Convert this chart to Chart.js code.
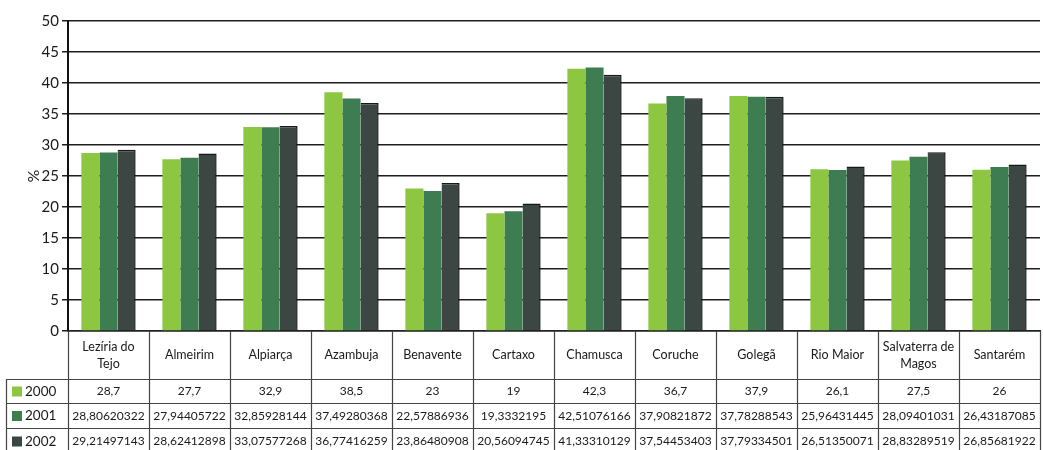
<!DOCTYPE html>
<html>
<head>
<meta charset="utf-8">
<script src="https://cdn.jsdelivr.net/npm/chart.js@4.4.1/dist/chart.umd.min.js"></script>
<style>
html,body{margin:0;padding:0;background:#fff;}
#wrap{width:1043px;height:450px;position:relative;}
</style>
</head>
<body>
<div id="wrap"><canvas id="c" width="1043" height="450"></canvas></div>
<script>
const categories = [["Lezíria do","Tejo"],"Almeirim","Alpiarça","Azambuja","Benavente","Cartaxo","Chamusca","Coruche","Golegã","Rio Maior",["Salvaterra de","Magos"],"Santarém"];
const seriesNames = ["2000","2001","2002"];
const values2000 = [28.7,27.7,32.9,38.5,23,19,42.3,36.7,37.9,26.1,27.5,26];
const values2001 = [28.80620322,27.94405722,32.85928144,37.49280368,22.57886936,19.3332195,42.51076166,37.90821872,37.78288543,25.96431445,28.09401031,26.43187085];
const values2002 = [29.21497143,28.62412898,33.07577268,36.77416259,23.86480908,20.56094745,41.33310129,37.54453403,37.79334501,26.51350071,28.83289519,26.85681922];
const yTicks = [0,5,10,15,20,25,30,35,40,45,50];

const colors = ['#8dc641','#3e7d52','#3c4744'];
const FONT = 'Lato, "Open Sans", sans-serif';
const seriesValues = [values2000, values2001, values2002];

const tablePlugin = {
  id: 'dataTable',
  afterDraw(chart) {
    const ctx = chart.ctx;
    const ca = chart.chartArea;
    const xs = chart.scales.x;
    const n = categories.length;
    const colW = (ca.right - ca.left) / n;
    const top = ca.bottom;
    const heights = [48, 24, 25, 26];
    const rowTops = [top];
    for (let i = 0; i < heights.length; i++) rowTops.push(rowTops[i] + heights[i]);
    const legendLeft = 6;
    ctx.save();
    ctx.strokeStyle = '#444';
    ctx.lineWidth = 1.2;
    ctx.beginPath();
    for (let r = 1; r < rowTops.length - 1; r++) {
      ctx.moveTo(legendLeft, rowTops[r] + 0.5);
      ctx.lineTo(ca.right, rowTops[r] + 0.5);
    }
    ctx.stroke();
    ctx.beginPath();
    ctx.moveTo(legendLeft + 0.5, rowTops[1]);
    ctx.lineTo(legendLeft + 0.5, 450);
    for (let i = 0; i <= n; i++) {
      const x = Math.round(ca.left + i * colW) + 0.5;
      ctx.moveTo(x, top);
      ctx.lineTo(x, 450);
    }
    ctx.stroke();
    ctx.fillStyle = '#1a1a1a';
    ctx.textAlign = 'center';
    ctx.textBaseline = 'middle';
    ctx.font = '12.5px ' + FONT;
    for (let i = 0; i < n; i++) {
      const cx = xs.getPixelForValue(i);
      const lab = categories[i];
      const cy = rowTops[0] + heights[0] / 2;
      if (Array.isArray(lab)) {
        ctx.fillText(lab[0], cx, cy - 8);
        ctx.fillText(lab[1], cx, cy + 9);
      } else {
        ctx.fillText(lab, cx, cy);
      }
    }
    for (let s = 0; s < seriesValues.length; s++) {
      const cy = rowTops[s + 1] + heights[s + 1] / 2 + 0.5;
      ctx.font = '12px ' + FONT;
      ctx.textAlign = 'center';
      for (let i = 0; i < n; i++) {
        const cx = xs.getPixelForValue(i);
        ctx.fillText(String(seriesValues[s][i]).replace('.', ','), cx, cy);
      }
      ctx.fillStyle = colors[s];
      ctx.fillRect(12, cy - 5, 10, 10);
      ctx.fillStyle = '#1a1a1a';
      ctx.textAlign = 'left';
      ctx.font = '13.5px ' + FONT;
      ctx.fillText(seriesNames[s], 25, cy);
    }
    ctx.restore();
  }
};

new Chart(document.getElementById('c'), {
  type: 'bar',
  data: {
    labels: categories.map(c => Array.isArray(c) ? c.join(' ') : c),
    datasets: [
      { label: seriesNames[0], data: values2000, backgroundColor: colors[0], borderWidth: 0 },
      { label: seriesNames[1], data: values2001, backgroundColor: colors[1], borderWidth: 0 },
      { label: seriesNames[2], data: values2002, backgroundColor: colors[2], borderColor: '#151a18', borderWidth: {top:1.5, right:1.5, left:0, bottom:0}, borderSkipped: 'bottom' }
    ]
  },
  options: {
    responsive: false,
    animation: false,
    layout: { padding: { left: 0, right: 3, top: 21, bottom: 119 } },
    plugins: { legend: { display: false }, tooltip: { enabled: false }, title: { display: false } },
    datasets: { bar: { categoryPercentage: 0.67, barPercentage: 1.0 } },
    scales: {
      x: {
        grid: { display: false },
        border: { display: true, color: '#222', width: 1.5 },
        ticks: { display: false },
        afterFit(s) { s.height = 0; }
      },
      y: {
        min: 0, max: 50,
        afterBuildTicks(s) { s.ticks = yTicks.map(v => ({ value: v })); },
        grid: { color: '#1e1e1e', lineWidth: 1.5, tickLength: 6, drawTicks: true },
        border: { display: true, color: '#111', width: 2 },
        ticks: { color: '#1a1a1a', font: { family: FONT, size: 15 }, padding: 3 },
        title: { display: true, text: '%', color: '#1a1a1a', font: { family: FONT, size: 16 }, padding: { top: 24, bottom: 0 } },
        afterFit(s) { s.width = 68; }
      }
    }
  },
  plugins: [tablePlugin]
});
</script>
</body>
</html>
